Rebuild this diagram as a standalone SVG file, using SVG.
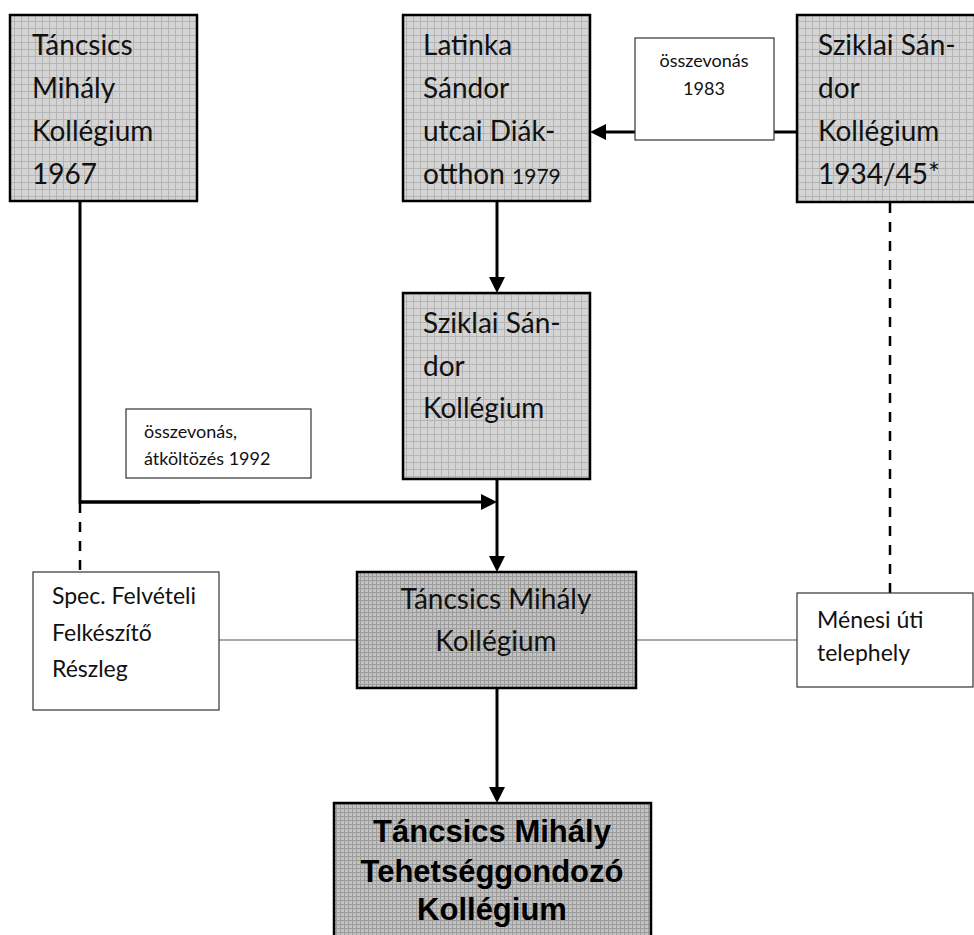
<svg xmlns="http://www.w3.org/2000/svg" width="974" height="935" viewBox="0 0 974 935">
<style>
.bg{fill:#ffffff}
.node{stroke:#000;stroke-width:2.5}
.light{fill:url(#gridA)}
.dark{fill:url(#gridB)}
.plain{fill:#fff;stroke:#333;stroke-width:1.2}
.t{font-family:Lato,"Open Sans","Liberation Sans",sans-serif;font-size:28px;fill:#111}
.ts{font-family:Lato,"Open Sans","Liberation Sans",sans-serif;font-size:23px;fill:#111}
.tl{font-family:Lato,"Open Sans","Liberation Sans",sans-serif;font-size:18px;fill:#111}
.tb{font-family:"Liberation Sans",Arial,sans-serif;font-size:31px;font-weight:bold;fill:#000}
.c{text-anchor:middle}
.arrow{fill:none;stroke:#000;stroke-width:3;marker-end:url(#ah)}
.solid{fill:none;stroke:#000;stroke-width:3}
.dash{fill:none;stroke:#000;stroke-width:2.5;stroke-dasharray:10 9}
.thin{fill:none;stroke:#555;stroke-width:1.2}
</style>
<defs>
<pattern id="gridA" width="7" height="7" patternUnits="userSpaceOnUse">
<rect width="7" height="7" fill="#d4d4d4"/>
<path d="M0,0.5H7M0.5,0V7" stroke="#b4b4b4" stroke-width="1"/>
</pattern>
<pattern id="gridB" width="4" height="4" patternUnits="userSpaceOnUse">
<rect width="4" height="4" fill="#c2c2c2"/>
<path d="M0,0.5H4M0.5,0V4" stroke="#9c9c9c" stroke-width="1"/>
</pattern>
<marker id="ah" markerUnits="userSpaceOnUse" markerWidth="16" markerHeight="16" refX="8" refY="8" orient="auto">
<path d="M0,0L16,8L0,16z" fill="#000"/>
</marker>
</defs>
<rect class="bg" width="974" height="935"/>

<g id="connectors">
<line class="arrow" x1="797" y1="132" x2="598" y2="132"/>
<line class="arrow" x1="497" y1="201" x2="497" y2="285"/>
<polyline class="solid" points="80,201 80,502 200,502"/>
<line class="arrow" x1="80" y1="502" x2="489" y2="502"/>
<line class="dash" x1="80" y1="503" x2="80" y2="572"/>
<line class="arrow" x1="497" y1="479" x2="497" y2="564"/>
<line class="dash" x1="890" y1="203" x2="890" y2="593"/>
<line class="thin" x1="219" y1="640" x2="357" y2="640"/>
<line class="thin" x1="636" y1="640" x2="797" y2="640"/>
<line class="arrow" x1="497" y1="688" x2="497" y2="795"/>
</g>

<g id="n1">
<rect class="node light" x="10" y="15" width="187" height="186"/>
<text class="t" x="32" y="55">Táncsics</text>
<text class="t" x="32" y="98">Mihály</text>
<text class="t" x="32" y="141">Kollégium</text>
<text class="t" x="32" y="184">1967</text>
</g>

<g id="n2">
<rect class="node light" x="403" y="15" width="187" height="186"/>
<text class="t" x="423" y="55">Latinka</text>
<text class="t" x="423" y="98">Sándor</text>
<text class="t" x="423" y="141">utcai Diák-</text>
<text class="t" x="423" y="184">otthon <tspan style="font-size:21px">1979</tspan></text>
</g>

<g id="n3">
<rect class="node light" x="797" y="15" width="190" height="187"/>
<text class="t" x="818" y="55">Sziklai Sán-</text>
<text class="t" x="818" y="98">dor</text>
<text class="t" x="818" y="141">Kollégium</text>
<text class="t" x="818" y="184">1934/45*</text>
</g>

<g id="l1983">
<rect class="plain" x="635" y="38" width="139" height="102"/>
<text class="tl c" x="704" y="67">összevonás</text>
<text class="tl c" x="704" y="95">1983</text>
</g>

<g id="n4">
<rect class="node light" x="403" y="293" width="187" height="186"/>
<text class="t" x="423" y="333">Sziklai Sán-</text>
<text class="t" x="423" y="376">dor</text>
<text class="t" x="423" y="418">Kollégium</text>
</g>

<g id="l1992">
<rect class="plain" x="126" y="409" width="185" height="69"/>
<text class="tl" x="144" y="438">összevonás,</text>
<text class="tl" x="144" y="465">átköltözés 1992</text>
</g>

<g id="spec">
<rect class="plain" x="33" y="572" width="186" height="138"/>
<text class="ts" x="52" y="604">Spec. Felvételi</text>
<text class="ts" x="52" y="641">Felkészítő</text>
<text class="ts" x="52" y="677">Részleg</text>
</g>

<g id="n5">
<rect class="node dark" x="357" y="572" width="279" height="116"/>
<text class="t c" x="496" y="609">Táncsics Mihály</text>
<text class="t c" x="496" y="651">Kollégium</text>
</g>

<g id="menesi">
<rect class="plain" x="797" y="593" width="176" height="94"/>
<text class="ts" x="817" y="628">Ménesi úti</text>
<text class="ts" x="817" y="661">telephely</text>
</g>

<g id="n6">
<rect class="node dark" x="334" y="803" width="317" height="140"/>
<text class="tb c" x="492" y="842">Táncsics Mihály</text>
<text class="tb c" x="492" y="882">Tehetséggondozó</text>
<text class="tb c" x="492" y="920">Kollégium</text>
</g>
</svg>
